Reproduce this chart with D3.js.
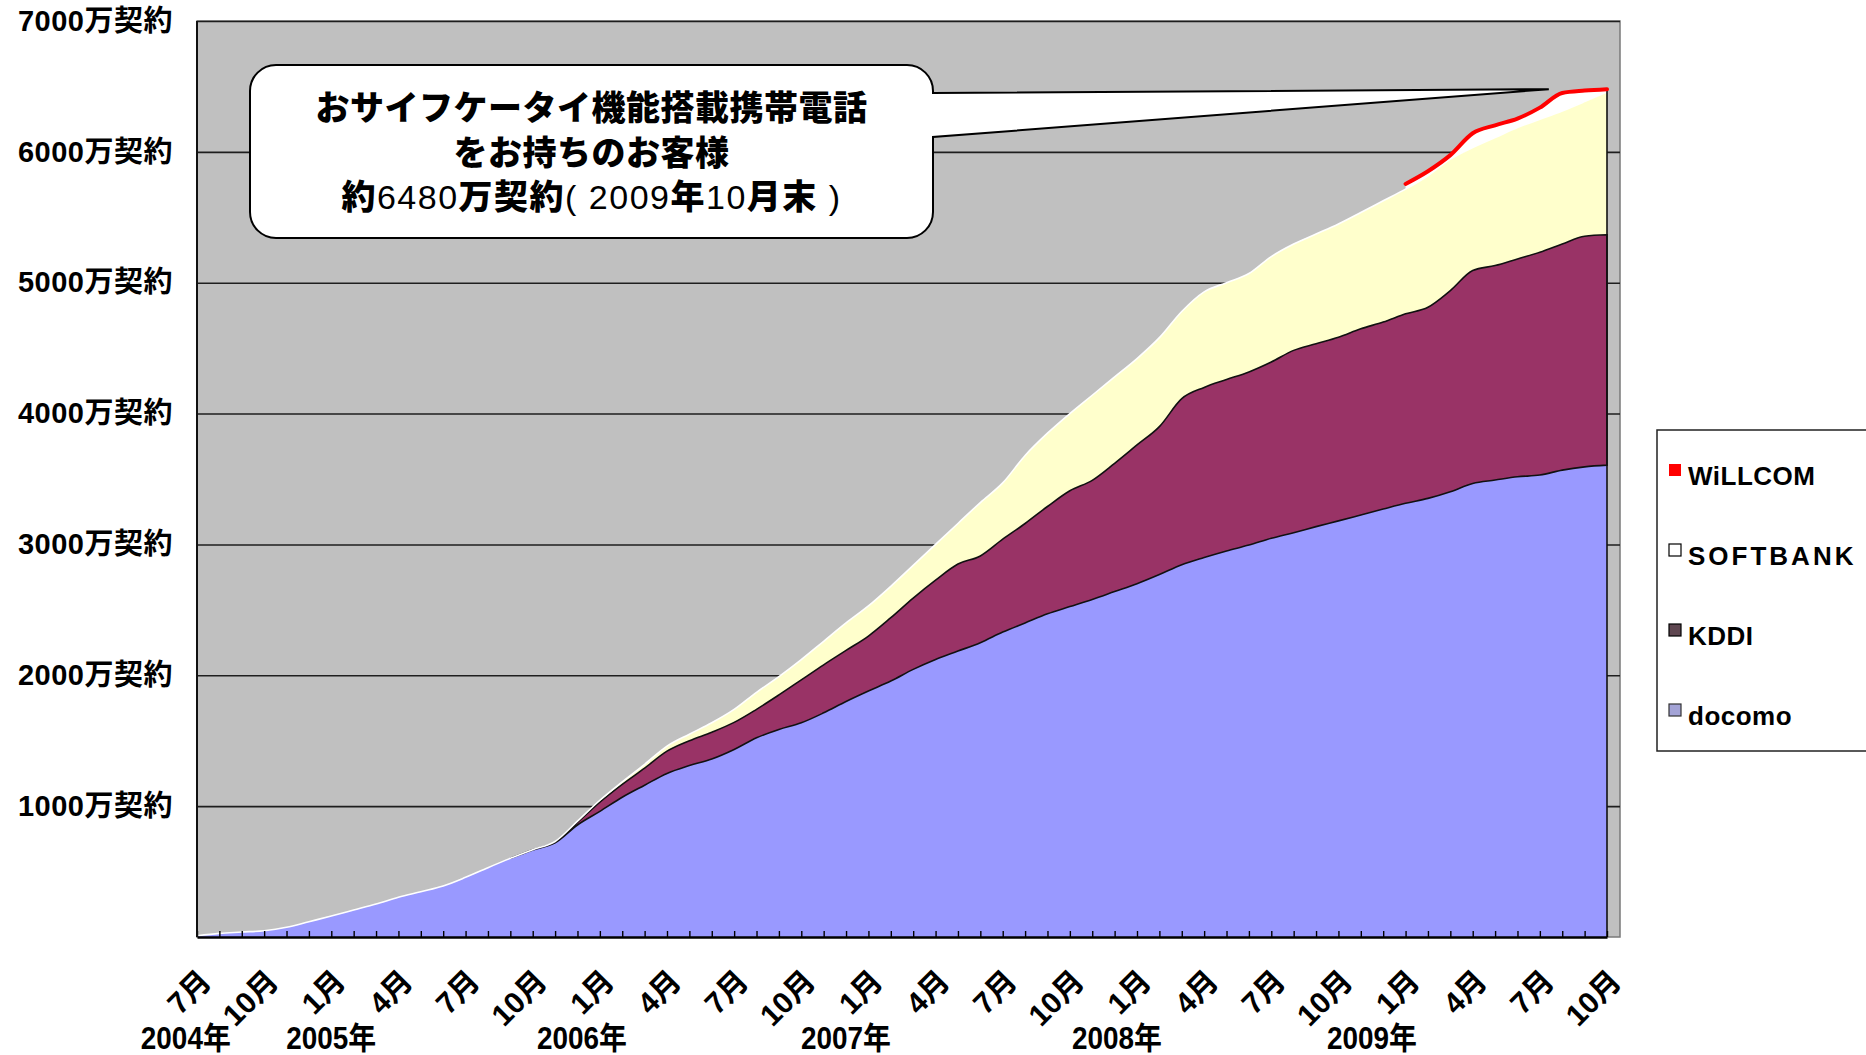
<!DOCTYPE html>
<html>
<head>
<meta charset="utf-8">
<script src="https://cdn.jsdelivr.net/npm/d3@7"></script>
<style>
  body { margin: 0; background: #fff; }
  svg text { font-family: "Liberation Sans", "Noto Sans CJK JP", sans-serif; fill: #000; }
</style>
</head>
<body>
<script>
//----------------- Data (万契約) -----------------
const months = [
  "2004/07","2004/08","2004/09","2004/10","2004/11","2004/12",
  "2005/01","2005/02","2005/03","2005/04","2005/05","2005/06","2005/07","2005/08","2005/09","2005/10","2005/11","2005/12",
  "2006/01","2006/02","2006/03","2006/04","2006/05","2006/06","2006/07","2006/08","2006/09","2006/10","2006/11","2006/12",
  "2007/01","2007/02","2007/03","2007/04","2007/05","2007/06","2007/07","2007/08","2007/09","2007/10","2007/11","2007/12",
  "2008/01","2008/02","2008/03","2008/04","2008/05","2008/06","2008/07","2008/08","2008/09","2008/10","2008/11","2008/12",
  "2009/01","2009/02","2009/03","2009/04","2009/05","2009/06","2009/07","2009/08","2009/09","2009/10"
];

const docomo = [
  10, 28, 38, 48, 74, 117,
  160, 206, 252, 303, 346, 390, 456, 530, 601, 665, 720, 856,
  960, 1068, 1160, 1250, 1310, 1360, 1433, 1522, 1586, 1637, 1713, 1800,
  1880, 1956, 2045, 2121, 2185, 2249, 2330, 2400, 2470, 2525, 2580, 2640,
  2700, 2770, 2845, 2900, 2950, 2995, 3047, 3090, 3136, 3180, 3225, 3270,
  3314, 3352, 3403, 3466, 3492, 3517, 3530, 3568, 3593, 3606
];

const kddi = [
  null, null, null, null, null, null,
  null, null, null, null, null, null, null, null, 0, 2, 5, 19,
  70, 98, 130, 170, 190, 205, 207, 218, 264, 328, 367, 390,
  420, 484, 545, 606, 665, 663, 710, 760, 820, 885, 910, 980,
  1060, 1130, 1269, 1300, 1310, 1323, 1347, 1393, 1398, 1404, 1423, 1429,
  1448, 1461, 1537, 1627, 1639, 1665, 1703, 1728, 1762, 1760
];

const softbank = [
  0, 0, 0, 0, 0, 0,
  0, 0, 0, 0, 0, 0, 0, 0, 0, 0, 5, 10,
  15, 20, 30, 39, 50, 72, 99, 130, 140, 155, 180, 210,
  230, 240, 250, 273, 310, 408, 430, 520, 560, 590, 650, 660,
  660, 680, 666, 730, 740, 752, 806, 813, 838, 865, 889, 927,
  953, 1004, 1004, 940, 978, 1004, 1016, 1017, 1029, 1092
];

const willcom = [
  null, null, null, null, null, null,
  null, null, null, null, null, null, null, null, null, null, null, null,
  null, null, null, null, null, null, null, null, null, null, null, null,
  null, null, null, null, null, null, null, null, null, null, null, null,
  null, null, null, null, null, null, null, null, null, null, null, null,
  40, 35, 31, 109, 94, 68, 89, 137, 84, 21
];

const tickMonths = ["2004/07","2004/10","2005/01","2005/04","2005/07","2005/10","2006/01","2006/04","2006/07","2006/10",
  "2007/01","2007/04","2007/07","2007/10","2008/01","2008/04","2008/07","2008/10","2009/01","2009/04","2009/07","2009/10"];
const tickLabels = ["7月","10月","1月","4月","7月","10月","1月","4月","7月","10月",
  "1月","4月","7月","10月","1月","4月","7月","10月","1月","4月","7月","10月"];

const yearMonths = ["2004/07","2005/01","2006/01","2007/01","2008/01","2009/01"];
const yearLabels = ["2004年","2005年","2006年","2007年","2008年","2009年"];

const yTicks = [1000, 2000, 3000, 4000, 5000, 6000, 7000];

const seriesKeys = ["docomo", "kddi", "softbank", "willcom"];
const legendNames = ["WiLLCOM", "SOFTBANK", "KDDI", "docomo"];

//----------------- Layout -----------------
const W = 1866, H = 1055;
const plotLeft = 197, plotTop = 21, plotBottom = 937, dataRight = 1607, frameRight = 1620;
// year label shift, in months, relative to its month tick
const yearShift = [-0.5, 0, -0.8, -1, -0.9, -1.5];

const svg = d3.select("body").append("svg").attr("width", W).attr("height", H);

const x = d3.scalePoint().domain(months).range([plotLeft, dataRight]);
const y = d3.scaleLinear().domain([0, 7000]).range([plotBottom, plotTop]);

const rows = months.map((m, i) => ({
  month: m, docomo: docomo[i], kddi: kddi[i], softbank: softbank[i], willcom: willcom[i]
}));

const stacked = d3.stack()
  .keys(seriesKeys)
  .value((d, k) => (d[k] == null ? 0 : d[k]))(rows);

//----------------- Plot background + grid -----------------
svg.append("rect")
  .attr("x", plotLeft).attr("y", plotTop)
  .attr("width", frameRight - plotLeft).attr("height", plotBottom - plotTop)
  .attr("fill", "#c0c0c0")
  .attr("stroke", "#7a7a7a").attr("stroke-width", 1.5);

const grid = svg.append("g")
  .attr("transform", `translate(${plotLeft},0)`)
  .call(d3.axisLeft(y).tickValues(yTicks).tickSize(-(frameRight - plotLeft)).tickFormat(""));
grid.select(".domain").remove();
grid.selectAll("line").attr("stroke", "#1e1e1e").attr("stroke-width", 1.6);

//----------------- Areas -----------------
const areaFor = (key) => d3.area()
  .defined((d) => d.data[key] != null)
  .x((d) => x(d.data.month))
  .y0((d) => y(d[0]))
  .y1((d) => y(d[1]))
  .curve(d3.curveMonotoneX);

const topLine = (key) => d3.line()
  .defined((d) => d.data[key] != null)
  .x((d) => x(d.data.month))
  .y((d) => y(d[1]))
  .curve(d3.curveMonotoneX);

const byKey = {};
stacked.forEach((s) => (byKey[s.key] = s));

svg.append("path").datum(byKey.docomo).attr("d", areaFor("docomo")).attr("fill", "#9999ff");
svg.append("path").datum(byKey.softbank).attr("d", areaFor("softbank")).attr("fill", "#ffffcc");
svg.append("path").datum(byKey.kddi).attr("d", areaFor("kddi"))
  .attr("fill", "#993366").attr("stroke", "#111").attr("stroke-width", 1.6);
svg.append("path").datum(byKey.softbank).attr("d", topLine("softbank"))
  .attr("fill", "none").attr("stroke", "#ffffff").attr("stroke-width", 1.6);
svg.append("path").datum(byKey.willcom).attr("d", areaFor("willcom")).attr("fill", "#ffffff");

// right edge of the stack
const last = stacked[stacked.length - 1][months.length - 1];
svg.append("line")
  .attr("x1", x(months[months.length - 1])).attr("x2", x(months[months.length - 1]))
  .attr("y1", y(last[1])).attr("y2", y(0))
  .attr("stroke", "#111").attr("stroke-width", 1.6);

// WILLCOM red line
svg.append("path").datum(byKey.willcom).attr("d", topLine("willcom"))
  .attr("fill", "none").attr("stroke", "#ff0000").attr("stroke-width", 4)
  .attr("stroke-linecap", "round");

//----------------- Axes -----------------
const xTicks = svg.append("g")
  .attr("transform", `translate(0,${plotBottom})`)
  .call(d3.axisBottom(x).tickValues(months).tickSize(-6).tickSizeOuter(0).tickFormat(""));
xTicks.select(".domain").attr("stroke", "#000").attr("stroke-width", 2.5);
xTicks.selectAll("line").attr("stroke", "#000").attr("stroke-width", 1.4);

svg.append("line")
  .attr("x1", plotLeft).attr("x2", plotLeft).attr("y1", plotTop).attr("y2", plotBottom)
  .attr("stroke", "#111").attr("stroke-width", 2);

const yAxis = svg.append("g")
  .attr("transform", `translate(${plotLeft},0)`)
  .call(d3.axisLeft(y).tickValues(yTicks).tickSize(0).tickPadding(24).tickFormat((d) => d + "万契約"));
yAxis.select(".domain").remove();
yAxis.selectAll("text")
  .style("font-size", "29px").style("font-weight", "bold")
  .style("font-family", '"Liberation Sans","Noto Sans CJK JP",sans-serif')
  .attr("letter-spacing", 0.5);

// month labels
svg.append("g").selectAll("text")
  .data(tickMonths)
  .enter()
  .append("text")
  .attr("transform", (d) => `translate(${x(d) + 16},983) rotate(-45)`)
  .attr("text-anchor", "end")
  .style("font-size", "30px").style("font-weight", "bold")
  .text((d, i) => tickLabels[i]);

// year labels (condensed look)
svg.append("g").selectAll("text")
  .data(yearMonths)
  .enter()
  .append("text")
  .attr("transform", (d, i) => `translate(${x(d) + yearShift[i] * x.step()},1049) scale(0.93,1.04)`)
  .attr("text-anchor", "middle")
  .style("font-family", '"Liberation Sans Narrow","Liberation Sans","Noto Sans CJK JP",sans-serif')
  .style("font-size", "30px").style("font-weight", "bold")
  .text((d, i) => yearLabels[i]);

//----------------- Callout -----------------
const bx0 = 250, by0 = 65, bx1 = 933, by1 = 238, r = 26;
const tipX = x(months[60]) + 0.4 * x.step();
const tipY = y(last[1]);
const p = d3.path();
p.moveTo(bx0 + r, by0);
p.lineTo(bx1 - r, by0);
p.arcTo(bx1, by0, bx1, by0 + r, r);
p.lineTo(bx1, 93);
p.lineTo(tipX, tipY);
p.lineTo(bx1, 137);
p.lineTo(bx1, by1 - r);
p.arcTo(bx1, by1, bx1 - r, by1, r);
p.lineTo(bx0 + r, by1);
p.arcTo(bx0, by1, bx0, by1 - r, r);
p.lineTo(bx0, by0 + r);
p.arcTo(bx0, by0, bx0 + r, by0, r);
p.closePath();
svg.append("path").attr("d", p.toString())
  .attr("fill", "#fff").attr("stroke", "#000").attr("stroke-width", 2);

const cx = (bx0 + bx1) / 2;
const callout = svg.append("g").style("font-size", "34px").style("font-weight", "900")
  .attr("text-anchor", "middle");
callout.append("text").attr("x", cx).attr("y", 120).attr("letter-spacing", 0.5)
  .text("おサイフケータイ機能搭載携帯電話");
callout.append("text").attr("x", cx).attr("y", 165).attr("letter-spacing", 0.5)
  .text("をお持ちのお客様");
const l3 = callout.append("text").attr("x", cx).attr("y", 209).attr("letter-spacing", 1.5);
[["約", "900"], ["6480", "normal"], ["万契約", "900"], ["( 2009", "normal"], ["年", "900"],
 ["10", "normal"], ["月末", "900"], [" )", "normal"]].forEach(([t, w]) => {
  l3.append("tspan").style("font-weight", w).text(t);
});

//----------------- Legend -----------------
const legend = svg.append("g");
legend.append("rect")
  .attr("x", 1657).attr("y", 430).attr("width", 240).attr("height", 321)
  .attr("fill", "#fff").attr("stroke", "#222").attr("stroke-width", 1.5);

const swatch = ["#ff0000", "#ffffff", "#5e4650", "#a3a3d6"];
const swatchStroke = ["none", "#000", "#000", "#333"];
const items = legend.selectAll("g.item")
  .data(legendNames)
  .enter()
  .append("g")
  .attr("class", "item")
  .attr("transform", (d, i) => `translate(1669,${485 + i * 80})`);
items.append("rect")
  .attr("x", 0).attr("y", -21).attr("width", 12).attr("height", 12)
  .attr("fill", (d, i) => swatch[i])
  .attr("stroke", (d, i) => swatchStroke[i]).attr("stroke-width", 1.2);
items.append("text")
  .attr("x", 19).attr("y", 0)
  .style("font-size", "26px")
  .style("font-weight", "bold")
  .attr("letter-spacing", (d, i) => (i === 1 ? 3 : 0.5))
  .text((d) => d);
</script>
</body>
</html>
